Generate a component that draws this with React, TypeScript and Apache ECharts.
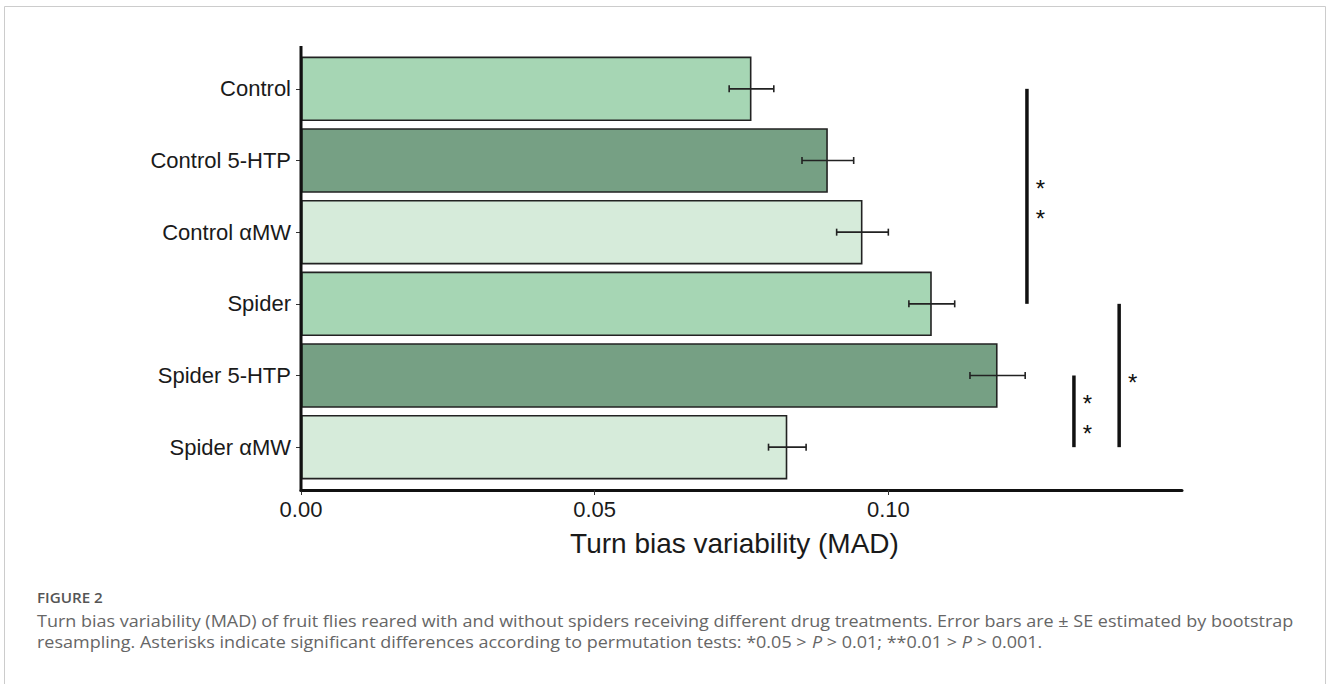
import React, { useEffect, useRef } from "react";
import * as echarts from "echarts";

// Treatment groups, top to bottom
const categories = [
  "Control",
  "Control 5-HTP",
  "Control αMW",
  "Spider",
  "Spider 5-HTP",
  "Spider αMW",
];

// Turn bias variability (MAD) per group and its bootstrap SE
const madMeans = [0.0767, 0.0897, 0.0956, 0.1074, 0.1186, 0.0828];
const madSE = [0.0038, 0.0044, 0.0044, 0.0039, 0.0047, 0.0032];

// Fill per group: plain, 5-HTP, αMW
const barFills = ["#a6d6b4", "#76a084", "#d6ebda", "#a6d6b4", "#76a084", "#d6ebda"];

// Axis ticks shown on the value axis
const xTicks = [0, 0.05, 0.1];

// Significance brackets: x position, first and last group index, number of stars
const sigX = [0.1236, 0.1316, 0.1393];
const sigFrom = [0, 4, 3];
const sigTo = [3, 5, 5];
const sigStars = [2, 2, 1];

const AXIS_FONT = '"Liberation Sans", Arial, Helvetica, sans-serif';
const CAPTION_FONT = '"Open Sans", "Noto Sans", sans-serif';

const GRID_LEFT = 301;
const GRID_TOP = 53;
const GRID_HEIGHT = 430;
const X_AXIS_OFFSET = 7;

const CAPTION_X = 37;
const CAPTION_STRETCH = 1.125;

export default function App() {
  const ref = useRef<HTMLDivElement>(null);

  useEffect(() => {
    if (!ref.current) return;
    const chart = echarts.init(ref.current, null, { renderer: "svg" });

    const errorData = categories.map((_, i) => [i, madMeans[i], madSE[i]]);
    const sigData = sigX.map((x, i) => [x, sigFrom[i], sigTo[i], sigStars[i]]);

    const option: any = {
      animation: false,
      backgroundColor: "#ffffff",
      grid: {
        left: GRID_LEFT,
        right: 146,
        top: GRID_TOP,
        height: GRID_HEIGHT,
        containLabel: false,
      },
      xAxis: {
        type: "value",
        min: 0,
        max: 0.15,
        interval: 0.05,
        offset: X_AXIS_OFFSET,
        name: "Turn bias variability (MAD)",
        nameLocation: "middle",
        nameGap: 39,
        nameTextStyle: {
          fontFamily: AXIS_FONT,
          fontSize: 28,
          color: "#1a1a1a",
          padding: [0, 14, 0, 0],
        },
        axisLine: { show: true, lineStyle: { color: "#111", width: 3 } },
        axisTick: {
          show: true,
          length: 5,
          customValues: xTicks,
          lineStyle: { color: "#333", width: 1 },
        },
        axisLabel: {
          customValues: xTicks,
          margin: 8,
          fontFamily: AXIS_FONT,
          fontSize: 22,
          color: "#1a1a1a",
          formatter: (v: number) => v.toFixed(2),
        },
        splitLine: { show: false },
      },
      yAxis: {
        type: "category",
        data: categories,
        inverse: true,
        axisLine: { show: false },
        axisTick: {
          show: true,
          alignWithLabel: true,
          length: 5,
          lineStyle: { color: "#333", width: 1 },
        },
        axisLabel: {
          margin: 10,
          fontFamily: AXIS_FONT,
          fontSize: 22,
          color: "#1a1a1a",
        },
        splitLine: { show: false },
      },
      series: [
        {
          type: "bar",
          barWidth: "90%",
          data: madMeans.map((v, i) => ({
            value: v,
            itemStyle: { color: barFills[i] },
          })),
          itemStyle: { borderColor: "#222", borderWidth: 1.6 },
          z: 2,
        },
        {
          type: "custom",
          z: 5,
          clip: false,
          encode: { x: 1, y: 0 },
          data: errorData,
          renderItem: (_params: any, api: any) => {
            const idx = api.value(0);
            const m = api.value(1);
            const s = api.value(2);
            const lo = api.coord([m - s, idx]);
            const hi = api.coord([m + s, idx]);
            const cap = 3.5;
            const st = { stroke: "#222", lineWidth: 1.6 };
            return {
              type: "group",
              children: [
                { type: "line", shape: { x1: lo[0], y1: lo[1], x2: hi[0], y2: hi[1] }, style: st },
                { type: "line", shape: { x1: lo[0], y1: lo[1] - cap, x2: lo[0], y2: lo[1] + cap }, style: st },
                { type: "line", shape: { x1: hi[0], y1: hi[1] - cap, x2: hi[0], y2: hi[1] + cap }, style: st },
              ],
            };
          },
        },
        {
          type: "custom",
          z: 5,
          clip: false,
          encode: { x: 0, y: 1 },
          data: sigData,
          renderItem: (_params: any, api: any) => {
            const x = api.value(0);
            const from = api.value(1);
            const to = api.value(2);
            const n = api.value(3);
            const a = api.coord([x, from]);
            const b = api.coord([x, to]);
            const mid = (a[1] + b[1]) / 2;
            const fs = 24;
            const children: any[] = [
              {
                type: "line",
                shape: { x1: a[0], y1: a[1], x2: b[0], y2: b[1] },
                style: { stroke: "#111", lineWidth: 3.5 },
              },
            ];
            const gap = 30;
            for (let k = 0; k < n; k++) {
              const cy = mid + (k - (n - 1) / 2) * gap;
              children.push({
                type: "text",
                x: a[0] + 13.5,
                y: cy + 0.28 * fs,
                style: {
                  text: "*",
                  fontSize: fs,
                  fontFamily: AXIS_FONT,
                  fill: "#111",
                  align: "center",
                  verticalAlign: "middle",
                },
              });
            }
            return { type: "group", children };
          },
        },
      ],
      graphic: [
        {
          type: "rect",
          silent: true,
          shape: { x: 4.5, y: 6.5, width: 1321, height: 720 },
          style: { fill: "none", stroke: "#cccccc", lineWidth: 1 },
        },
        {
          type: "line",
          silent: true,
          z: 10,
          shape: {
            x1: GRID_LEFT,
            y1: 46,
            x2: GRID_LEFT,
            y2: GRID_TOP + GRID_HEIGHT + X_AXIS_OFFSET + 1.5,
          },
          style: { stroke: "#111", lineWidth: 3 },
        },
        {
          type: "text",
          x: CAPTION_X,
          y: 598,
          scaleX: CAPTION_STRETCH,
          style: {
            text: "FIGURE 2",
            fontFamily: CAPTION_FONT,
            fontSize: 13.5,
            fontWeight: 600,
            fill: "#555555",
            verticalAlign: "middle",
          },
        },
        {
          type: "text",
          x: CAPTION_X,
          y: 621,
          scaleX: CAPTION_STRETCH,
          style: {
            text:
              "Turn bias variability (MAD) of fruit flies reared with and without spiders receiving different drug treatments. Error bars are ± SE estimated by bootstrap",
            fontFamily: CAPTION_FONT,
            fontSize: 16,
            fill: "#666666",
            verticalAlign: "middle",
          },
        },
        {
          type: "text",
          x: CAPTION_X,
          y: 642,
          scaleX: CAPTION_STRETCH,
          style: {
            text:
              "resampling. Asterisks indicate significant differences according to permutation tests: *0.05 > {i|P} > 0.01; **0.01 > {i|P} > 0.001.",
            fontFamily: CAPTION_FONT,
            fontSize: 16,
            fill: "#666666",
            verticalAlign: "middle",
            rich: {
              i: {
                fontFamily: CAPTION_FONT,
                fontSize: 16,
                fontStyle: "italic",
                fill: "#666666",
              },
            },
          },
        },
      ],
    };

    chart.setOption(option);
    return () => chart.dispose();
  }, []);

  return (
    <div
      ref={ref}
      style={{
        position: "fixed",
        left: 0,
        top: 0,
        width: 1328,
        height: 684,
        background: "#ffffff",
      }}
    />
  );
}
